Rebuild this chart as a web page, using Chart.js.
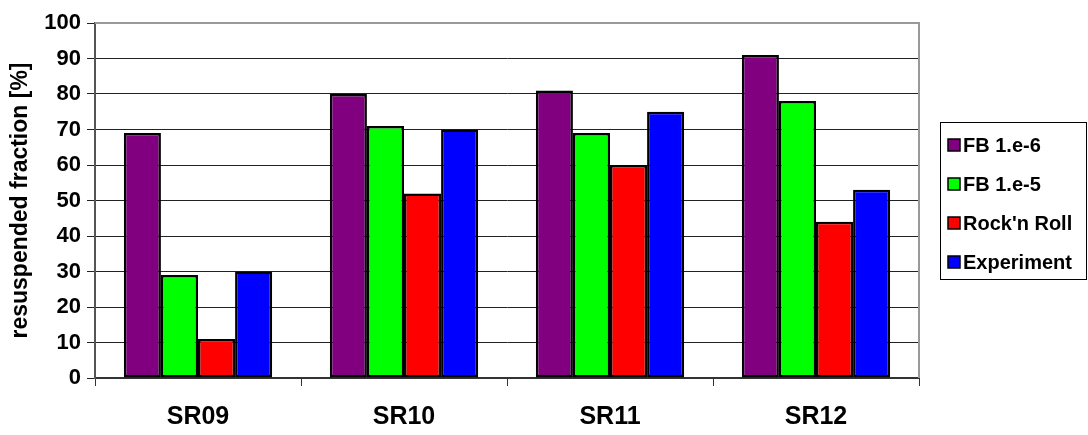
<!DOCTYPE html>
<html>
<head>
<meta charset="utf-8">
<script src="https://cdn.jsdelivr.net/npm/chart.js@4.4.1/dist/chart.umd.min.js"></script>
<style>
  html, body { margin: 0; padding: 0; background: #fff; }
  #wrap { width: 1088px; height: 435px; }
</style>
</head>
<body>
<div id="wrap"><canvas id="resuspChart" width="1088" height="435"></canvas></div>
<script>
const categories = ['SR09', 'SR10', 'SR11', 'SR12'];
const seriesNames = ['FB 1.e-6', 'FB 1.e-5', "Rock'n Roll", 'Experiment'];
const fb6 = [69, 80, 81, 91];
const fb5 = [29, 71, 69, 78];
const rockRoll = [11, 52, 60, 44];
const experiment = [30, 70, 75, 53];
const yTicks = [0, 10, 20, 30, 40, 50, 60, 70, 80, 90, 100];

const colors = ['#800080', '#00ff00', '#ff0000', '#0000ff'];
const seriesValues = [fb6, fb5, rockRoll, experiment];

const FONT = 'Arial, "Liberation Sans", sans-serif';

// gray top/right border of the plot + boxed legend on the right
const framePlugin = {
    id: 'frame',
    afterDraw(chart) {
        const ctx = chart.ctx;
        const a = chart.chartArea;
        ctx.save();
        ctx.strokeStyle = '#999';
        ctx.lineWidth = 2;
        ctx.beginPath();
        ctx.moveTo(a.left, a.top);
        ctx.lineTo(a.right, a.top);
        ctx.lineTo(a.right, a.bottom);
        ctx.stroke();

        // legend
        const lx = 940, ly = 122, lw = 146, lh = 157;
        ctx.strokeStyle = '#000';
        ctx.lineWidth = 1;
        ctx.strokeRect(lx + 0.5, ly + 0.5, lw, lh);
        ctx.font = 'bold 20px ' + FONT;
        ctx.textBaseline = 'middle';
        chart.data.datasets.forEach((ds, i) => {
            const y = 145 + i * 39;
            ctx.fillStyle = ds.backgroundColor;
            ctx.fillRect(lx + 8, y - 6, 12, 12);
            ctx.strokeStyle = '#000';
            ctx.lineWidth = 1.5;
            ctx.strokeRect(lx + 8, y - 6, 12, 12);
            ctx.fillStyle = '#000';
            ctx.fillText(ds.label, lx + 23, y + 1);
        });
        ctx.restore();
    }
};

const ctx = document.getElementById('resuspChart').getContext('2d');

new Chart(ctx, {
    type: 'bar',
    data: {
        labels: categories,
        datasets: seriesNames.map((name, i) => ({
            label: name,
            data: seriesValues[i],
            backgroundColor: colors[i],
            borderColor: '#000',
            borderWidth: 2.5,
            borderSkipped: false,
            barPercentage: 1.0,
            categoryPercentage: 0.72,
        })),
    },
    options: {
        responsive: false,
        animation: false,
        layout: {
            padding: { top: 23, right: 169, left: 0, bottom: 0 },
        },
        plugins: {
            legend: { display: false },
            tooltip: { enabled: false },
        },
        scales: {
            x: {
                grid: {
                    offset: true,
                    drawOnChartArea: false,
                    color: '#333',
                    tickLength: 8,
                },
                border: { color: '#333', width: 2 },
                ticks: {
                    color: '#000',
                    font: { family: FONT, size: 25, weight: 'bold' },
                    padding: 16,
                },
                afterFit(scale) { scale.height = 57; },
            },
            y: {
                min: 0,
                max: 100,
                afterBuildTicks(scale) {
                    scale.ticks = yTicks.map(v => ({ value: v }));
                },
                grid: {
                    color: '#222',
                    lineWidth: 1,
                    tickLength: 8,
                },
                border: { color: '#555', width: 2 },
                ticks: {
                    color: '#000',
                    font: { family: FONT, size: 22, weight: 'bold' },
                    padding: 6,
                },
                title: {
                    display: true,
                    text: 'resuspended fraction [%]',
                    color: '#000',
                    font: { family: FONT, size: 23, weight: 'bold' },
                    padding: { top: 7, bottom: 0 },
                },
                afterFit(scale) { scale.width = 95; },
            },
        },
    },
    plugins: [framePlugin],
});
</script>
</body>
</html>
